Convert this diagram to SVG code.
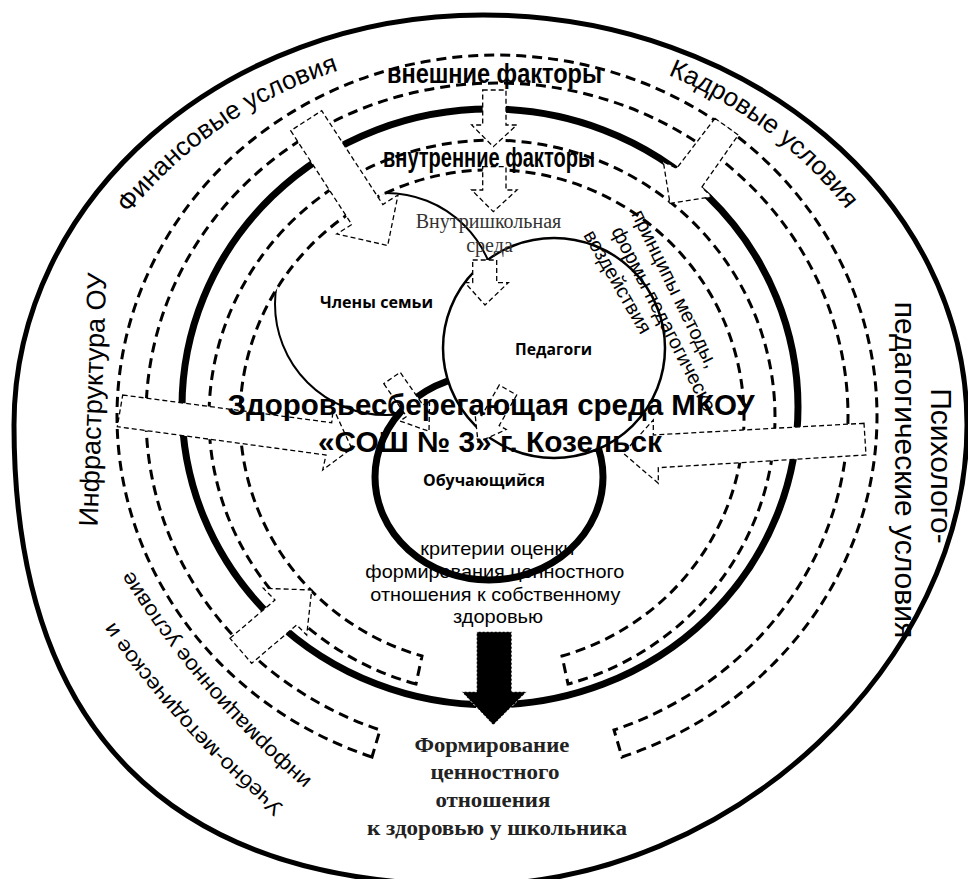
<svg xmlns="http://www.w3.org/2000/svg" width="968" height="879" viewBox="0 0 968 879">
<style>
.band{fill:#fff;stroke:#000;stroke-width:3;stroke-dasharray:10 6}
.arr{fill:#fff;stroke:#000;stroke-width:1.3;stroke-dasharray:5 3}
.lbl{font-family:"Liberation Sans",Arial,sans-serif;fill:#000}
.bold{font-family:"Liberation Sans",Arial,sans-serif;font-weight:bold;fill:#000}
.node{font-family:"Open Sans","Liberation Sans",sans-serif;font-weight:bold;font-size:16px;fill:#000}
.serif{font-family:"Liberation Serif","Times New Roman",serif}
</style>
<defs>
<path id="pFin" d="M129,214 A440,396 0 0 1 395,56"/>
<path id="pKad" d="M668,75 A450,405 0 0 1 895,290"/>
<path id="pUch1" d="M284,806 A900,900 0 0 1 94,592"/>
<path id="pUch2" d="M312,780 A900,900 0 0 1 116,544"/>
</defs>
<rect width="968" height="879" fill="#fff"/>
<g id="outer-ring">
<path d="M483,15 C750,15 967,199 967,425 C967,660 735,885 470,885 C170,885 14,730 14,425 C14,199 224,15 483,15 Z" fill="#fff" stroke="#000" stroke-width="5"/>
</g>
<g id="family">
<circle cx="386" cy="304" r="111" fill="#fff" stroke="#000" stroke-width="2"/>
</g>
<g id="student">
<ellipse cx="489" cy="477" rx="114" ry="103" fill="#fff" stroke="#000" stroke-width="7"/>
</g>
<g id="teachers">
<ellipse cx="554" cy="348" rx="111" ry="110" fill="#fff" stroke="#000" stroke-width="2.5"/>
</g>
<g id="external-band">
<path class="band" d="M372,757 A380,361 0 1 1 622,757 L614,730 A351,333 0 1 0 380,730 Z"/>
</g>
<g id="internal-band">
<path class="band" d="M416,684 A283,277 0 1 1 568,684 L562,656 A252,248 0 1 0 422,656 Z"/>
</g>
<g id="environment">
<ellipse cx="490" cy="407" rx="308" ry="298" fill="none" stroke="#000" stroke-width="7"/>
</g>
<g id="connectors">
<polygon class="arr" points="290.7,130.7 351.8,224.5 336.7,234 387.7,245.5 398,195 382.8,204.5 321.7,110.7"/>
<polygon class="arr" points="715,118.3 676.7,168.3 663.3,161.7 670,203.3 711.7,196.7 701.7,187.3 738.3,135"/>
<polygon class="arr" points="122.7,395 331.7,422.7 333.3,408.3 351.7,448.3 322.7,470 326,455 117.3,426.7"/>
<polygon class="arr" points="864,423.3 653.3,435 653.3,420 623.3,453.3 658.3,483.3 658.3,467.7 866,455"/>
<polygon class="arr" points="230,638.3 275,600 263.3,588.3 311.7,590 306.7,635 296.7,625 251.7,663.3"/>
<polygon class="arr" points="482.7,90 506,90 506,125 516.7,125 493.3,146.7 471.7,125 482.7,125"/>
<polygon class="arr" points="482.7,166.7 506,166.7 506,190 517,190 493.3,211.7 471.7,190 482.7,190"/>
<polygon class="arr" points="472.7,260 496.7,260 496.7,282.7 508.3,282.7 485,305 465,282.7 472.7,282.7"/>
<polygon class="arr" points="383.8,383.7 406.6,416.5 400,421 429,431.3 429.6,400.5 423,405.1 400.2,372.3"/>
<polygon class="arr" points="499.3,385 481.8,415.5 474.8,411.5 478,442.3 506.2,429.5 499.2,425.5 516.7,395"/>
<polygon points="476.7,631.7 511.7,631.7 511.7,691.7 526.7,691.7 493.3,725 461.7,691.7 476.7,691.7" fill="#000" stroke="#fff" stroke-width="1" stroke-dasharray="2 2"/>
</g>
<g id="labels">
<text class="lbl" font-size="26"><textPath href="#pFin">Финансовые условия</textPath></text>
<text class="lbl" font-size="26"><textPath href="#pKad">Кадровые условия</textPath></text>
<text class="lbl" font-size="27" text-anchor="middle" transform="translate(102,400) rotate(-88)">Инфраструктура ОУ</text>
<text class="lbl" font-size="30" text-anchor="middle" transform="translate(931,466) rotate(90)">Психолого-</text>
<text class="lbl" font-size="30" text-anchor="middle" transform="translate(895,470) rotate(90)">педагогические условия</text>
<text class="lbl" font-size="21"><textPath href="#pUch1" textLength="252" lengthAdjust="spacingAndGlyphs">Учебно-методическое и</textPath></text>
<text class="lbl" font-size="21"><textPath href="#pUch2" textLength="278" lengthAdjust="spacingAndGlyphs">информационное условие</textPath></text>
<text class="bold" font-size="27" x="494.5" y="83" text-anchor="middle" textLength="215" lengthAdjust="spacingAndGlyphs">внешние факторы</text>
<text class="bold" font-size="27" x="489" y="167" text-anchor="middle" textLength="212" lengthAdjust="spacingAndGlyphs">внутренние факторы</text>
<text class="serif" font-size="20" fill="#333" text-anchor="middle"><tspan x="488.5" y="228">Внутришкольная</tspan><tspan x="489.5" y="252">среда</tspan></text>
<text class="node" x="376.5" y="308" text-anchor="middle" textLength="113" lengthAdjust="spacingAndGlyphs">Члены семьи</text>
<text class="node" x="553.5" y="355" text-anchor="middle" textLength="77" lengthAdjust="spacingAndGlyphs">Педагоги</text>
<text class="node" x="484" y="486" text-anchor="middle" textLength="122" lengthAdjust="spacingAndGlyphs">Обучающийся</text>
<text class="lbl" font-size="20" transform="translate(631,214) rotate(64)">принципы методы,</text>
<text class="lbl" font-size="20" transform="translate(611,231) rotate(62.7)">формы педагогическо</text>
<text class="lbl" font-size="20" transform="translate(583,235) rotate(60)">воздействия</text>
<text class="lbl" font-size="19" fill="#222" text-anchor="middle">
<tspan x="500" y="555" textLength="154" lengthAdjust="spacingAndGlyphs">критерии оценки</tspan>
<tspan x="497.5" y="578" textLength="259" lengthAdjust="spacingAndGlyphs">формирования ценностного</tspan>
<tspan x="498" y="601" textLength="250" lengthAdjust="spacingAndGlyphs">отношения к собственному</tspan>
<tspan x="498" y="623" textLength="90" lengthAdjust="spacingAndGlyphs">здоровью</tspan>
</text>
<text class="bold" font-size="29" x="491" y="415" text-anchor="middle" textLength="527" lengthAdjust="spacingAndGlyphs">Здоровьесберегающая среда МКОУ</text>
<text class="bold" font-size="29" x="490" y="452" text-anchor="middle" textLength="344" lengthAdjust="spacingAndGlyphs">«СОШ № 3» г. Козельск</text>
<text class="serif" font-size="21" font-weight="bold" fill="#222" text-anchor="middle">
<tspan x="494.5" y="752" textLength="155" lengthAdjust="spacingAndGlyphs">Формирование</tspan>
<tspan x="497.5" y="779" textLength="129" lengthAdjust="spacingAndGlyphs">ценностного</tspan>
<tspan x="495.5" y="807" textLength="115" lengthAdjust="spacingAndGlyphs">отношения</tspan>
<tspan x="497" y="835" textLength="260" lengthAdjust="spacingAndGlyphs">к здоровью у школьника</tspan>
</text>
</g>
</svg>
